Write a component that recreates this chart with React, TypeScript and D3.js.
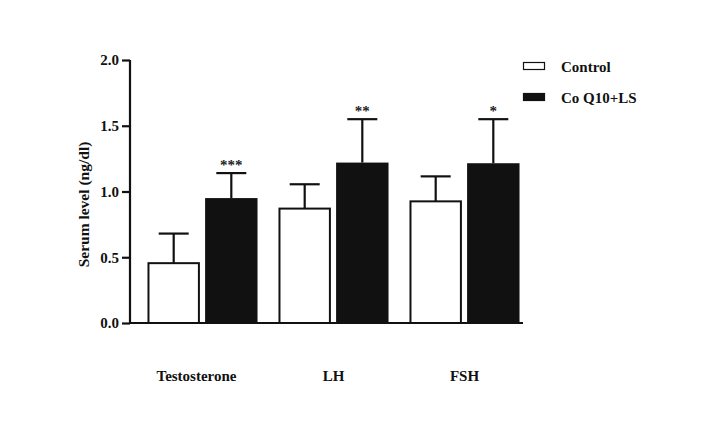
import React, { useEffect, useRef } from "react";
import * as d3 from "d3";

const categories = ["Testosterone", "LH", "FSH"];
const groups = ["Control", "Co Q10+LS"];
const controlMean = [0.455, 0.87, 0.925];
const controlErr = [0.225, 0.185, 0.19];
const treatedMean = [0.95, 1.22, 1.215];
const treatedErr = [0.19, 0.33, 0.335];
const significance = ["***", "**", "*"];
const yTicks = [0, 0.5, 1.0, 1.5, 2.0];

const font = "Liberation Serif, DejaVu Serif, Times New Roman, serif";

const App = () => {
  const svgRef = useRef<SVGSVGElement>(null);

  useEffect(() => {
    const svg = d3.select(svgRef.current);
    svg.selectAll("*").remove();

    const y = d3.scaleLinear().domain([0, 2]).range([323, 60]);
    const x = d3.scaleBand<string>()
      .domain(categories)
      .range([137, 530])
      .paddingInner(0.16)
      .paddingOuter(0.08);
    const inner = d3.scaleBand<string>()
      .domain(groups)
      .range([0, x.bandwidth()])
      .paddingInner(0.09);

    const rows = categories.flatMap((c, i) => [
      { cat: c, grp: groups[0], mean: controlMean[i], err: controlErr[i], sig: "" },
      { cat: c, grp: groups[1], mean: treatedMean[i], err: treatedErr[i], sig: significance[i] },
    ]);

    const g = svg.append("g");

    // error bars (drawn first so bar covers lower part)
    const eb = g.selectAll(".eb").data(rows).join("g");
    eb.append("line")
      .attr("x1", d => x(d.cat)! + inner(d.grp)! + inner.bandwidth() / 2)
      .attr("x2", d => x(d.cat)! + inner(d.grp)! + inner.bandwidth() / 2)
      .attr("y1", d => y(d.mean))
      .attr("y2", d => y(d.mean + d.err))
      .attr("stroke", "#111")
      .attr("stroke-width", 2.2);
    eb.append("line")
      .attr("x1", d => x(d.cat)! + inner(d.grp)! + inner.bandwidth() / 2 - 15)
      .attr("x2", d => x(d.cat)! + inner(d.grp)! + inner.bandwidth() / 2 + 15)
      .attr("y1", d => y(d.mean + d.err))
      .attr("y2", d => y(d.mean + d.err))
      .attr("stroke", "#111")
      .attr("stroke-width", 2.2);

    g.selectAll(".bar").data(rows).join("rect")
      .attr("x", d => x(d.cat)! + inner(d.grp)! + (d.grp === groups[0] ? 1 : 0))
      .attr("width", d => inner.bandwidth() - (d.grp === groups[0] ? 2 : 0))
      .attr("y", d => y(d.mean))
      .attr("height", d => y(0) - y(d.mean))
      .attr("fill", d => d.grp === groups[0] ? "#fff" : "#111")
      .attr("stroke", "#111")
      .attr("stroke-width", d => d.grp === groups[0] ? 2 : 0);

    g.selectAll(".sig").data(rows.filter(d => d.sig)).join("text")
      .attr("x", d => x(d.cat)! + inner(d.grp)! + inner.bandwidth() / 2)
      .attr("y", d => y(d.mean + d.err) - 3)
      .attr("text-anchor", "middle")
      .attr("font-family", font)
      .attr("font-weight", "bold")
      .attr("font-size", 15)
      .attr("fill", "#222")
      .text(d => d.sig);

    // y axis
    const yAxis = g.append("g")
      .attr("transform", "translate(130,0)")
      .call(d3.axisLeft(y).tickValues(yTicks).tickSize(8).tickPadding(3).tickFormat(d3.format(".1f")));
    yAxis.select(".domain").attr("stroke", "#111").attr("stroke-width", 2.2).attr("d", `M0,${y(2)}V${y(0)}`);
    yAxis.selectAll(".tick line").attr("stroke", "#111").attr("stroke-width", 2.2);
    yAxis.selectAll("text")
      .attr("font-family", font)
      .attr("font-weight", "bold")
      .attr("font-size", 15)
      .attr("fill", "#111");

    // x axis line
    g.append("line")
      .attr("x1", 129).attr("x2", 523)
      .attr("y1", y(0)).attr("y2", y(0))
      .attr("stroke", "#111").attr("stroke-width", 2.2);

    g.selectAll(".cat").data(categories).join("text")
      .attr("x", d => x(d)! + x.bandwidth() / 2 - (d === "Testosterone" ? 6 : 0))
      .attr("y", 381)
      .attr("text-anchor", "middle")
      .attr("font-family", font)
      .attr("font-weight", "bold")
      .attr("font-size", 15)
      .attr("fill", "#111")
      .text(d => d);

    g.append("text")
      .attr("transform", `translate(89,${(y(0) + y(2)) / 2 + 13}) rotate(-90)`)
      .attr("text-anchor", "middle")
      .attr("font-family", font)
      .attr("font-weight", "bold")
      .attr("font-size", 15.5)
      .attr("fill", "#111")
      .text("Serum level (ng/dl)");

    // legend
    const leg = g.selectAll(".leg").data(groups).join("g")
      .attr("transform", (d, i) => `translate(523,${62 + i * 31})`);
    leg.append("rect")
      .attr("x", 0.5).attr("y", 0.5)
      .attr("width", 21).attr("height", 7)
      .attr("fill", (d, i) => i === 0 ? "#fff" : "#111")
      .attr("stroke", "#111").attr("stroke-width", 1.2);
    leg.append("text")
      .attr("x", 38).attr("y", 10)
      .attr("font-family", font)
      .attr("font-weight", "bold")
      .attr("font-size", 15)
      .attr("fill", "#111")
      .text(d => d);
  }, []);

  return (
    <svg ref={svgRef} width={719} height={432}
      style={{ position: "absolute", left: 0, top: 0, background: "#fff" }} />
  );
};

export default App;
